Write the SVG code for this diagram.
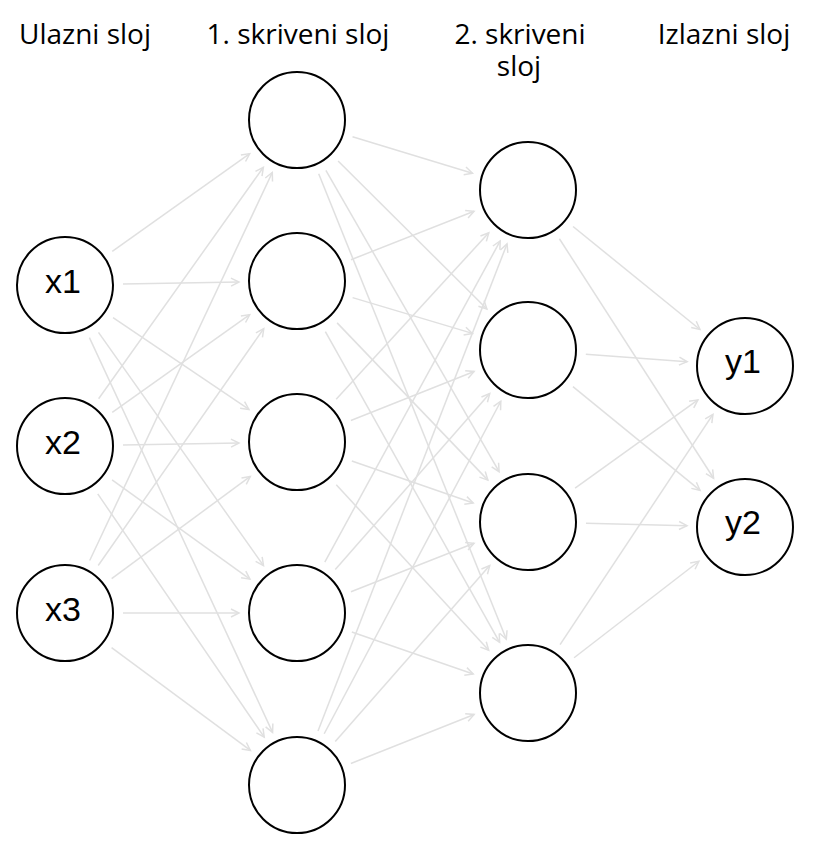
<svg xmlns="http://www.w3.org/2000/svg" width="824" height="849" viewBox="0 0 824 849">
<style>
.title{font-family:"Open Sans","Noto Sans",sans-serif;font-size:28px;fill:#000;text-anchor:middle}
.node circle{fill:#fff;stroke:#000;stroke-width:2}
.node text{font-family:"Liberation Sans",Arial,sans-serif;font-size:34px;fill:#000;text-anchor:middle}
#edges line{stroke:#e0e0e0;stroke-width:1.5;marker-end:url(#arr)}
</style>
<defs>
<marker id="arr" viewBox="0 0 10 10" markerWidth="10" markerHeight="10" refX="9" refY="5" orient="auto" markerUnits="userSpaceOnUse" overflow="visible">
<path d="M1,1 L9,5 L1,9" fill="none" stroke="#e0e0e0" stroke-width="1.5"/>
</marker>
</defs>
<rect width="824" height="849" fill="#fff"/>
<g id="titles">
<text class="title" x="85" y="44">Ulazni sloj</text>
<text class="title" x="298" y="44">1. skriveni sloj</text>
<text class="title" x="520" y="44"><tspan x="520">2. skriveni</tspan><tspan x="519" dy="32">sloj</tspan></text>
<text class="title" x="724" y="44">Izlazni sloj</text>
</g>
<g id="edges">
<line x1="112.27" y1="251.38" x2="249.73" y2="153.62"/>
<line x1="122.99" y1="284.0" x2="239.01" y2="282.0"/>
<line x1="113.03" y1="317.51" x2="248.97" y2="409.49"/>
<line x1="98.49" y1="332.35" x2="263.51" y2="565.65"/>
<line x1="89.41" y1="337.61" x2="272.59" y2="732.39"/>
<line x1="98.63" y1="398.74" x2="263.37" y2="167.26"/>
<line x1="112.27" y1="412.38" x2="249.73" y2="314.62"/>
<line x1="122.99" y1="445.0" x2="239.01" y2="443.0"/>
<line x1="112.07" y1="479.88" x2="249.93" y2="579.12"/>
<line x1="97.76" y1="493.86" x2="264.24" y2="737.14"/>
<line x1="89.70" y1="560.52" x2="272.30" y2="172.48"/>
<line x1="98.22" y1="565.46" x2="263.78" y2="328.54"/>
<line x1="111.69" y1="578.59" x2="250.31" y2="476.41"/>
<line x1="123" y1="613" x2="239" y2="613"/>
<line x1="111.59" y1="647.54" x2="250.41" y2="750.46"/>
<line x1="352.51" y1="136.82" x2="472.49" y2="173.18"/>
<line x1="338.10" y1="160.92" x2="486.90" y2="309.08"/>
<line x1="325.90" y1="170.29" x2="499.10" y2="471.71"/>
<line x1="318.69" y1="173.79" x2="506.31" y2="639.21"/>
<line x1="350.96" y1="259.74" x2="474.04" y2="211.26"/>
<line x1="352.57" y1="297.60" x2="472.43" y2="333.40"/>
<line x1="337.13" y1="322.87" x2="487.87" y2="480.13"/>
<line x1="325.37" y1="331.59" x2="499.63" y2="642.41"/>
<line x1="336.19" y1="399.25" x2="488.81" y2="232.75"/>
<line x1="350.88" y1="420.54" x2="474.12" y2="371.46"/>
<line x1="351.81" y1="460.98" x2="473.19" y2="503.02"/>
<line x1="336.28" y1="484.68" x2="488.72" y2="650.32"/>
<line x1="324.80" y1="562.10" x2="500.20" y2="240.90"/>
<line x1="335.28" y1="569.42" x2="489.72" y2="393.58"/>
<line x1="350.96" y1="591.74" x2="474.04" y2="543.26"/>
<line x1="351.81" y1="631.98" x2="473.19" y2="674.02"/>
<line x1="317.99" y1="730.93" x2="507.01" y2="243.93"/>
<line x1="324.20" y1="733.77" x2="500.80" y2="401.23"/>
<line x1="335.28" y1="741.42" x2="489.72" y2="565.58"/>
<line x1="350.88" y1="763.54" x2="474.12" y2="714.46"/>
<line x1="573.05" y1="226.54" x2="699.95" y2="329.46"/>
<line x1="559.40" y1="238.77" x2="713.60" y2="478.23"/>
<line x1="585.84" y1="354.26" x2="687.16" y2="361.74"/>
<line x1="572.94" y1="386.66" x2="700.06" y2="490.34"/>
<line x1="575.09" y1="488.14" x2="697.91" y2="399.86"/>
<line x1="585.98" y1="523.34" x2="687.02" y2="525.66"/>
<line x1="560.07" y1="644.67" x2="712.93" y2="414.33"/>
<line x1="574.07" y1="657.76" x2="698.93" y2="561.24"/>
</g>
<g id="x1" class="node"><circle cx="65" cy="285" r="48"/><text x="63" y="293">x1</text></g>
<g id="x2" class="node"><circle cx="65" cy="446" r="48"/><text x="63" y="454">x2</text></g>
<g id="x3" class="node"><circle cx="65" cy="613" r="48"/><text x="63" y="621">x3</text></g>
<g id="h1_1" class="node"><circle cx="297" cy="120" r="48"/></g>
<g id="h1_2" class="node"><circle cx="297" cy="281" r="48"/></g>
<g id="h1_3" class="node"><circle cx="297" cy="442" r="48"/></g>
<g id="h1_4" class="node"><circle cx="297" cy="613" r="48"/></g>
<g id="h1_5" class="node"><circle cx="297" cy="785" r="48"/></g>
<g id="h2_1" class="node"><circle cx="528" cy="190" r="48"/></g>
<g id="h2_2" class="node"><circle cx="528" cy="350" r="48"/></g>
<g id="h2_3" class="node"><circle cx="528" cy="522" r="48"/></g>
<g id="h2_4" class="node"><circle cx="528" cy="693" r="48"/></g>
<g id="y1" class="node"><circle cx="745" cy="366" r="48"/><text x="743" y="373">y1</text></g>
<g id="y2" class="node"><circle cx="745" cy="527" r="48"/><text x="743" y="534">y2</text></g>
</svg>
